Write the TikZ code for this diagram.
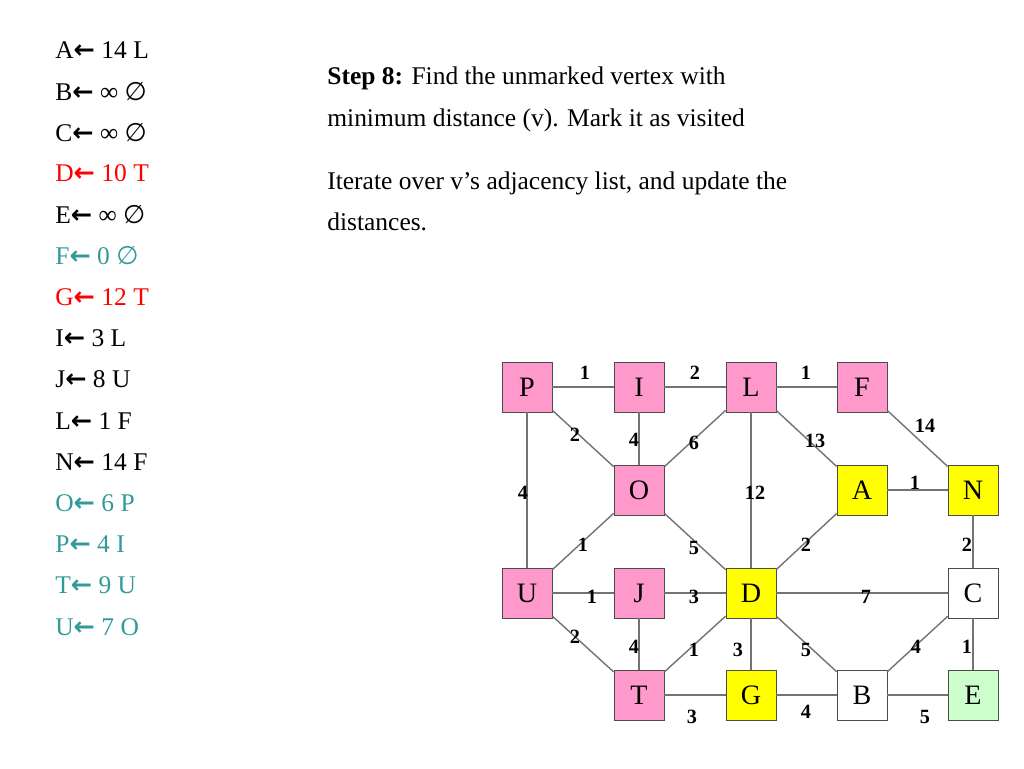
\documentclass[tikz,border=0pt]{standalone}
\usepackage{fontspec}
\setmainfont{Liberation Serif}
\newfontfamily\djv{DejaVu Sans}
\definecolor{pk}{RGB}{255,153,204}
\definecolor{yl}{RGB}{255,255,0}
\definecolor{lg}{RGB}{204,255,204}
\definecolor{tl}{RGB}{51,153,153}
\begin{document}
\begin{tikzpicture}[x=0.02cm,y=-0.02cm,
 v/.style={draw=black!70,minimum size=1cm,inner sep=0pt,font=\fontsize{16}{16}\selectfont},
 e/.style={draw=black!55,line width=0.8pt},
 w/.style={font=\bfseries\fontsize{11.5}{12}\selectfont,inner sep=0pt},
 li/.style={anchor=west,inner sep=0pt,font=\fontsize{14.5}{15}\selectfont},
 tx/.style={anchor=west,inner sep=0pt,font=\fontsize{14.5}{15}\selectfont}]
\useasboundingbox (0,0) rectangle (1024,768);
\newcommand{\ar}{{\djv\bfseries ←}}
\newcommand{\es}{{\djv ∅}}
\foreach \t/\c [count=\i from 0] in {A\ar\ 14 L/black, B\ar\ ∞ \es/black, C\ar\ ∞ \es/black, D\ar\ 10 T/red, E\ar\ ∞ \es/black, F\ar\ 0 \es/tl, G\ar\ 12 T/red, I\ar\ 3 L/black, J\ar\ 8 U/black, L\ar\ 1 F/black, N\ar\ 14 F/black, O\ar\ 6 P/tl, P\ar\ 4 I/tl, T\ar\ 9 U/tl, U\ar\ 7 O/tl}
  \node[li,text=\c] (l\i) at (55,{50+41.2*\i}) {\t};
\node[tx] (s1) at (327,78) {\textbf{Step 8:} Find the unmarked vertex with};
\node[tx] (s2) at (327,120) {minimum distance (v). Mark it as visited};
\node[tx] (s3) at (327,183) {Iterate over v’s adjacency list, and update the};
\node[tx] (s4) at (327,222) {distances.};
\foreach \n/\x/\y/\c in {P/527/387/pk,I/639/387/pk,L/751/387/pk,F/862/387/pk,O/639/490/pk,A/862/490/yl,N/973/490/yl,U/527/593/pk,J/639/593/pk,D/751/593/yl,C/973/593/white,T/639/695/pk,G/751/695/yl,B/862/695/white,E/973/695/lg}
  \node[v,fill=\c] (\n) at (\x,\y) {\n};
\foreach \a/\b in {P/I,I/L,L/F,P/O,I/O,L/O,L/A,F/N,P/U,L/D,A/N,O/U,O/D,A/D,N/C,U/J,J/D,D/C,U/T,J/T,D/T,D/G,D/B,C/B,C/E,T/G,G/B,B/E}
  \draw[e] (\a) -- (\b);
\foreach \t/\x/\y [count=\i] in {1/585/373,2/695/373,1/806/373,2/575/435,4/634/440,6/694/443,13/815/441,14/925/426,4/523/493,12/755/493,1/915/483,1/583/545,5/694/548,2/806/545,2/967/545,1/592/597,3/694/597,7/866/597,2/575/637,4/634/647,1/694/650,3/738/650,5/806/650,4/916/647,1/967/647,3/692/717,4/806/712,5/925/717}
  \node[w] (w\i) at (\x,\y) {\t};
\end{tikzpicture}
\end{document}
